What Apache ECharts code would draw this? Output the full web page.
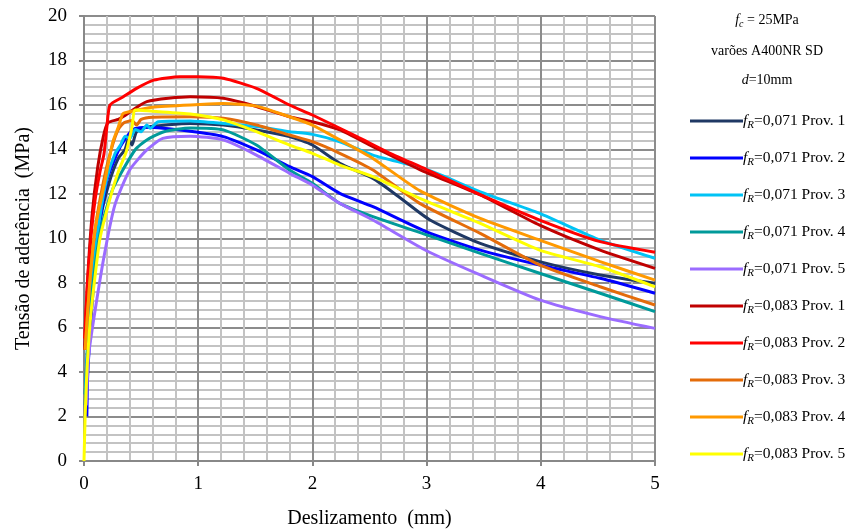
<!DOCTYPE html>
<html>
<head>
<meta charset="utf-8">
<script src="https://cdn.jsdelivr.net/npm/echarts@6/dist/echarts.min.js"></script>
<style>html,body{margin:0;padding:0;background:#fff}#c{width:851px;height:530px}</style>
</head>
<body>
<div id="c"></div>
<script>
// Series names (legend)
const seriesNames = [
  'fR=0,071 Prov. 1','fR=0,071 Prov. 2','fR=0,071 Prov. 3','fR=0,071 Prov. 4','fR=0,071 Prov. 5',
  'fR=0,083 Prov. 1','fR=0,083 Prov. 2','fR=0,083 Prov. 3','fR=0,083 Prov. 4','fR=0,083 Prov. 5'
];
const seriesColors = ['#1f3864','#0000ff','#00c3f5','#009a9a','#9b6cff','#c00000','#ff0000','#e46c0a','#ff9900','#ffff00'];

// [slip (mm), bond stress (MPa)]
const s071p1 = [[0.01,3],[0.04,6],[0.08,8.5],[0.14,10.8],[0.22,12.5],[0.3,13.6],[0.36,14.0],[0.39,14.5],[0.42,14.2],[0.46,14.8],[0.55,15.0],[0.93,15.17],[1.22,15.1],[1.51,14.88],[1.8,14.58],[2.0,14.2],[2.24,13.38],[2.53,12.7],[2.75,11.9],[3.03,10.83],[3.47,9.78],[3.99,8.96],[4.52,8.36],[5.0,7.99]];
const s071p2 = [[0.025,2.0],[0.03,3.5],[0.04,4.6],[0.07,7],[0.12,10],[0.2,12.6],[0.315,14.1],[0.43,14.9],[0.55,15.0],[0.93,14.82],[1.22,14.58],[1.51,13.98],[1.8,13.23],[2.0,12.78],[2.24,12.03],[2.53,11.43],[3.0,10.3],[3.47,9.48],[3.99,8.81],[4.52,8.21],[5.0,7.54]];
const s071p3 = [[0.01,3],[0.04,6],[0.08,8.5],[0.14,11],[0.2,12.7],[0.27,13.8],[0.32,14.2],[0.36,14.6],[0.4,14.5],[0.45,14.9],[0.5,14.8],[0.55,15.1],[0.58,14.95],[0.65,15.25],[0.93,15.28],[1.22,15.17],[1.51,15.03],[1.8,14.8],[2.0,14.68],[2.24,14.35],[2.53,13.75],[3.0,13.1],[3.47,12.1],[3.99,11.13],[4.52,9.93],[5.0,9.11]];
const s071p4 = [[0.01,2.5],[0.04,5.5],[0.08,8],[0.15,10.5],[0.25,12.2],[0.34,13.08],[0.45,14.0],[0.55,14.43],[0.7,14.8],[0.93,14.97],[1.22,14.88],[1.51,14.2],[1.8,13.08],[2.0,12.48],[2.24,11.58],[2.53,10.98],[3.0,10.16],[3.47,9.33],[3.99,8.44],[4.52,7.54],[5.0,6.71]];
const s071p5 = [[0.02,2.5],[0.04,4.7],[0.08,6.2],[0.175,9.18],[0.27,11.5],[0.4,13.08],[0.55,13.98],[0.69,14.5],[0.93,14.6],[1.22,14.43],[1.51,13.75],[1.8,12.93],[2.0,12.4],[2.24,11.58],[2.53,10.83],[3.0,9.45],[3.47,8.36],[3.99,7.24],[4.52,6.49],[5.0,5.96]];
const s083p1 = [[0.005,5],[0.03,8],[0.07,11],[0.12,13.2],[0.17,14.6],[0.21,15.2],[0.3,15.35],[0.34,15.47],[0.55,16.15],[0.93,16.37],[1.22,16.3],[1.51,15.93],[1.8,15.47],[2.0,15.25],[2.24,14.88],[2.53,14.13],[2.94,13.1],[3.47,11.96],[3.99,10.6],[4.52,9.48],[5.0,8.66]];
const s083p2 = [[0.005,5.5],[0.03,8],[0.06,10],[0.096,11.7],[0.14,13],[0.175,13.8],[0.2,15],[0.228,16.0],[0.344,16.37],[0.46,16.75],[0.61,17.12],[0.84,17.27],[1.0,17.27],[1.22,17.2],[1.51,16.75],[1.8,16.0],[2.0,15.55],[2.39,14.58],[2.68,13.83],[3.0,13.1],[3.5,11.9],[3.99,10.83],[4.52,9.86],[5.0,9.38]];
const s083p3 = [[0.01,5],[0.05,8],[0.1,10.5],[0.18,12.8],[0.25,14.2],[0.3,14.9],[0.35,15.2],[0.42,15.3],[0.46,15.1],[0.5,15.35],[0.6,15.45],[0.93,15.47],[1.22,15.4],[1.51,15.1],[1.8,14.65],[2.0,14.35],[2.24,13.83],[2.53,13.08],[2.94,11.58],[3.47,10.23],[3.99,8.81],[4.52,7.83],[5.0,7.01]];
const s083p4 = [[0.01,5],[0.05,8],[0.1,10.5],[0.18,12.5],[0.25,14.3],[0.3,15.0],[0.34,15.6],[0.4,15.7],[0.6,15.9],[1.0,16.02],[1.22,16.07],[1.51,15.95],[1.8,15.47],[2.0,15.1],[2.24,14.43],[2.53,13.6],[2.94,12.15],[3.47,10.9],[3.99,9.93],[4.52,8.96],[5.0,8.13]];
const s083p5 = [[0,0],[0.01,2],[0.025,4],[0.053,6.2],[0.09,8],[0.14,10],[0.228,11.8],[0.3,13],[0.37,13.9],[0.42,15],[0.45,15.78],[0.6,15.72],[0.93,15.6],[1.22,15.33],[1.51,14.8],[1.8,14.2],[2.0,13.83],[2.24,13.3],[2.53,12.78],[2.94,11.8],[3.47,10.68],[3.99,9.48],[4.52,8.73],[5.0,7.83]];
const seriesData = [s071p1,s071p2,s071p3,s071p4,s071p5,s083p1,s083p2,s083p3,s083p4,s083p5];

const FONT = '"Liberation Serif", "DejaVu Serif", serif';
const chart = echarts.init(document.getElementById('c'), null, {renderer:'canvas'});

const series = seriesNames.map((n,i)=>({
  name:n, type:'line', data:seriesData[i], showSymbol:false, symbol:'none',
  smooth:0.2, lineStyle:{width:3, color:seriesColors[i]}, itemStyle:{color:seriesColors[i]}, z:2+i
}));

function rich(sz){
  return {
    i:{fontFamily:FONT, fontStyle:'italic', fontWeight:'normal', fontSize:sz, color:'#000'},
    s:{fontFamily:FONT, fontStyle:'italic', fontWeight:'normal', fontSize:Math.round(sz*0.68), color:'#000', padding:[Math.round(sz*0.5),0,0,0]},
    n:{fontFamily:FONT, fontWeight:'normal', fontSize:sz, color:'#000'}
  };
}

chart.setOption({
  animation:false,
  backgroundColor:'#fff',
  title:[
    {text:'{i|f}{s|c}{n| = 25MPa}', left:762, top:7, textAlign:'center', textStyle:{fontWeight:'normal', rich:rich(14)}},
    {text:'varões A400NR SD', left:762, top:39, textAlign:'center', textStyle:{fontFamily:FONT, fontSize:14, fontWeight:'normal', color:'#000'}},
    {text:'{i|d}{n|=10mm}', left:762, top:68, textAlign:'center', textStyle:{fontWeight:'normal', rich:rich(14)}}
  ],
  legend:{
    orient:'vertical', left:685, top:108, icon:'rect', itemWidth:53, itemHeight:3, itemGap:19.5,
    data:seriesNames,
    formatter:function(name){ return '{i|f}{s|R}{n|' + name.slice(2) + '}'; },
    textStyle:{rich:rich(15.5), padding:[0,0,0,-5]}
  },
  grid:{left:84, right:196, top:16, bottom:69, outerBoundsMode:'none', containLabel:false},
  xAxis:{
    type:'value', min:0, max:5, interval:1,
    name:'Deslizamento  (mm)', nameLocation:'middle', nameGap:48,
    nameTextStyle:{fontFamily:FONT, fontSize:20, color:'#000'},
    axisLine:{show:true, lineStyle:{color:'#888', width:2}},
    axisTick:{show:true, length:5, lineStyle:{color:'#888', width:2}},
    axisLabel:{fontFamily:FONT, fontSize:19, color:'#000', margin:14},
    splitLine:{show:true, lineStyle:{color:'#8c8c8c', width:2}},
    minorTick:{show:false, splitNumber:5},
    minorSplitLine:{show:true, lineStyle:{color:'#c3c3c3', width:2}}
  },
  yAxis:{
    type:'value', min:0, max:20, interval:2,
    name:'Tensão de aderência  (MPa)', nameLocation:'middle', nameGap:50,
    nameTextStyle:{fontFamily:FONT, fontSize:20, color:'#000'},
    axisLine:{show:true, lineStyle:{color:'#888', width:2}},
    axisTick:{show:true, length:5, lineStyle:{color:'#888', width:2}},
    axisLabel:{fontFamily:FONT, fontSize:19, color:'#000', margin:17},
    splitLine:{show:true, lineStyle:{color:'#8c8c8c', width:2}},
    minorTick:{show:false, splitNumber:5},
    minorSplitLine:{show:true, lineStyle:{color:'#c3c3c3', width:2}}
  },
  series:series
});
</script>
</body>
</html>
